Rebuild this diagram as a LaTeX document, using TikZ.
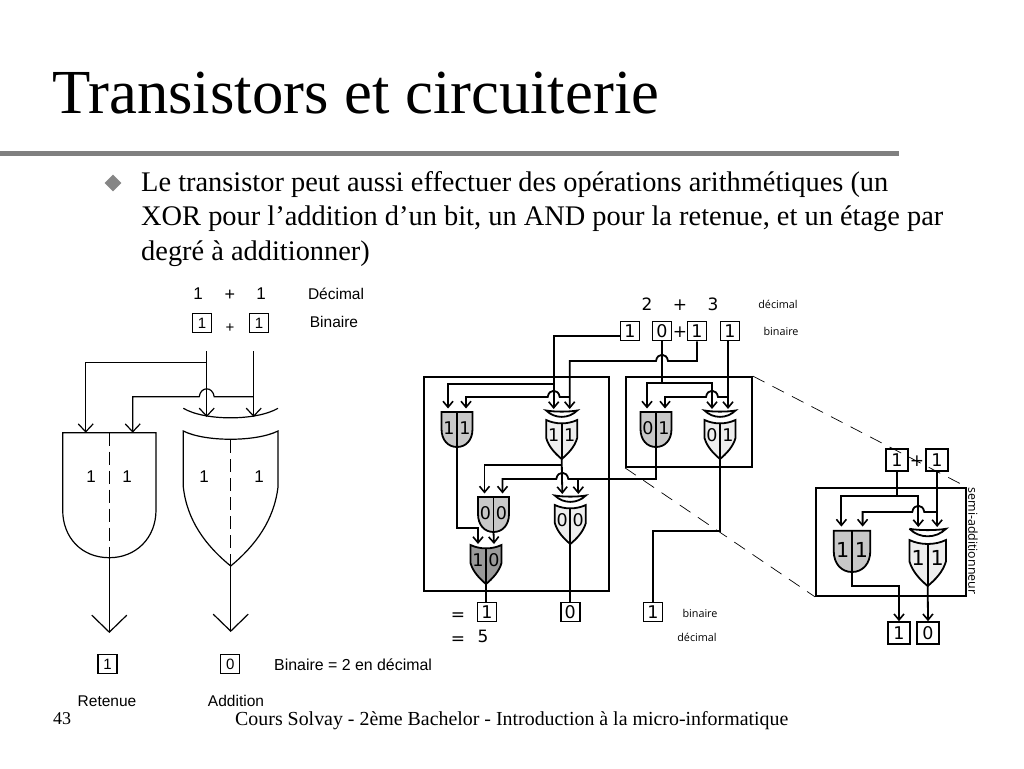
\documentclass[tikz,border=0pt]{standalone}
\usepackage{fontspec}
\setmainfont{Liberation Serif}
\setsansfont{Liberation Sans}
\newfontfamily\digitfont{DejaVu Sans}
\newfontfamily\wordfont{Open Sans}
\usetikzlibrary{arrows.meta,calc,shapes.geometric}
\definecolor{rulegray}{HTML}{808080}
\definecolor{andgray}{HTML}{C8C8C8}
\definecolor{xorgray}{HTML}{EEEEEE}
\definecolor{orgray}{HTML}{9A9A9A}
\tikzset{
	wire/.style={line width=1.8pt},
	thinwire/.style={line width=1.2pt},
	tip/.tip={Straight Barb[length=6pt,width=10pt,line width=1.6pt]},
	bigtip/.tip={Straight Barb[length=8pt,width=15pt,line width=1.2pt]},
	hugetip/.tip={Straight Barb[length=17pt,width=35pt,line width=1.2pt]},
	bitbox/.style={draw,line width=1.6pt,minimum size=19pt,inner sep=0pt,font=\digitfont\fontsize{17.5}{17.5}\selectfont},
	smallbox/.style={draw,line width=1.1pt,minimum size=19pt,inner sep=0pt,font=\sffamily\fontsize{15}{15}\selectfont},
	frame/.style={draw,line width=1.8pt,inner sep=0pt},
	gatebit/.style={transform shape,inner sep=0pt,font=\digitfont\fontsize{17.5}{17.5}\selectfont},
	label/.style={inner sep=0pt,font=\wordfont\fontsize{10.8}{10.8}\selectfont},
	sumtext/.style={inner sep=0pt,font=\digitfont\fontsize{17}{17}\selectfont},
	helvtext/.style={inner sep=0pt,font=\sffamily\fontsize{15.5}{15.5}\selectfont},
	bignum/.style={inner sep=0pt,font=\sffamily\fontsize{17}{17}\selectfont},
	cutline/.style={line width=0.7pt,dash pattern=on 13pt off 9pt},
	midline/.style={thinwire,dash pattern=on 13pt off 6pt},
}
% hump of a horizontal wire going left over the vertical wire at #1
\newcommand{\hop}[3]{-- ($(#1 |- 0,#2)+(#3,0)$) .. controls +({-#3/5},{-#3*1.4}) and +({#3/5},{-#3*1.4}) .. +({-2*#3},0)}
% name, x, top y, left, right, fill
\newcommand{\andgate}[7][1]{
	\begin{scope}[shift={(#3,#4)},scale=#1]
		\draw[wire,fill=#7] (-15.5,0) -- (15.5,0) -- (15.5,17) .. controls (15.5,28) and (9,35) .. (0,35)
			.. controls (-9,35) and (-15.5,28) .. (-15.5,17) -- cycle;
		\draw[wire] (0,0) -- (0,35);
		\node[gatebit] at (-8,16) {#5};
		\node[gatebit] at (8,16) {#6};
		\coordinate (#2-l) at (-9,-3.5);
		\coordinate (#2-r) at (9,-3.5);
		\coordinate (#2-o) at (0,35);
	\end{scope}
}
\newcommand{\xorgate}[7][1]{
	\begin{scope}[shift={(#3,#4)},scale=#1]
		\draw[wire] (-15.5,-9.5) .. controls (-7,-8) and (7,-8) .. (15.5,-9.5)
			.. controls (7,-1) and (-7,-1) .. cycle;
		\draw[wire,fill=#7] (-15.5,0) .. controls (-6,4.5) and (6,4.5) .. (15.5,0) -- (15.5,18)
			.. controls (13,27) and (6,34) .. (0,39) .. controls (-6,34) and (-13,27) .. (-15.5,18) -- cycle;
		\draw[wire] (0,3.5) -- (0,39);
		\node[gatebit] at (-8,15.5) {#5};
		\node[gatebit] at (8,15.5) {#6};
		\coordinate (#2-l) at (-8,-11);
		\coordinate (#2-r) at (8,-11);
		\coordinate (#2-o) at (0,39);
	\end{scope}
}
\newcommand{\orgate}[6]{
	\begin{scope}[shift={(#2,#3)}]
		\draw[wire,fill=#6] (-15.5,0) .. controls (-6,4.5) and (6,4.5) .. (15.5,0) -- (15.5,18)
			.. controls (13,27) and (6,34) .. (0,39) .. controls (-6,34) and (-13,27) .. (-15.5,18) -- cycle;
		\draw[wire] (0,3.5) -- (0,39);
		\node[gatebit] at (-8,15.5) {#4};
		\node[gatebit] at (8,15.5) {#5};
		\coordinate (#1-l) at (-8,-1);
		\coordinate (#1-r) at (8,-1);
		\coordinate (#1-o) at (0,39);
	\end{scope}
}
\begin{document}
\begin{tikzpicture}[x=1pt,y=-1pt]
	\useasboundingbox[fill=white] (0,0) rectangle (1024,768);
	% heading and text
	\node[anchor=west,inner sep=0pt,font=\fontsize{62.7}{62.7}\selectfont] (title) at (52,93) {Transistors et circuiterie};
	\coordinate (ruleL) at (0,153);
	\coordinate (ruleR) at (899,153);
	\draw[line width=5pt,rulegray] (ruleL) -- (ruleR);
	\node[diamond,fill=rulegray!95!white,inner sep=0pt,minimum size=17pt] (bullet) at (113,183) {};
	\node[anchor=north west,inner sep=0pt,align=left,font=\fontsize{28.4}{34.5}\selectfont] (para) at (141,171)
		{Le transistor peut aussi effectuer des opérations arithmétiques (un\\
		XOR pour l’addition d’un bit, un AND pour la retenue, et un étage par\\
		degré à additionner)};
	\node[anchor=west,inner sep=0pt,font=\fontsize{18}{18}\selectfont] (page) at (53,719) {43};
	\node[anchor=west,inner sep=0pt,font=\fontsize{19.9}{20}\selectfont] (foot) at (235,721) {Cours Solvay - 2ème Bachelor - Introduction à la micro-informatique};
	% left circuit
	\node[bignum] (d1) at (198,294) {1};
	\node[bignum,font=\sffamily\fontsize{18}{18}\selectfont] (dplus) at (230,295) {+};
	\node[bignum] (d2) at (261,294) {1};
	\node[helvtext] (ldec) at (336,294) {Décimal};
	\node[smallbox] (l1) at (202,323) {1};
	\node[bignum,font=\sffamily\fontsize{15}{15}\selectfont] (lplus) at (230,328) {+};
	\node[smallbox] (l2) at (259,323) {1};
	\node[helvtext] (lbin) at (334,322) {Binaire};
	\coordinate (w1) at (206.7,351);
	\coordinate (w2) at (253.7,351);
	% big and
	\draw[thinwire] (62.7,432.7) -- (156,432.7) -- (156,510) .. controls (156,538) and (136,557.7) .. (109.3,557.7)
		.. controls (82,557.7) and (62.7,538) .. (62.7,510) -- cycle;
	\draw[midline] (109.3,432.7) -- (109.3,557.7);
	\coordinate (bigA-l) at (85.7,432.7);
	\coordinate (bigA-r) at (132.7,432.7);
	\coordinate (bigA-o) at (109.3,557.7);
	\node[bignum] (ba1) at (91,477) {1};
	\node[bignum] (ba2) at (127,477) {1};
	% big xor
	\draw[thinwire] (183.3,408.3) .. controls (205,421) and (256,421) .. (278,408.3);
	\draw[thinwire] (183.3,431) .. controls (205,442) and (256,442) .. (278,431) -- (278,487)
		.. controls (274,520) and (256,545) .. (230.7,566) .. controls (205,545) and (187,520) .. (183.3,487) -- cycle;
	\draw[midline] (230.7,440) -- (230.7,566);
	\coordinate (bigX-l) at (206.7,417);
	\coordinate (bigX-r) at (253.7,417);
	\coordinate (bigX-o) at (230.7,566);
	\node[bignum] (bx1) at (204,477) {1};
	\node[bignum] (bx2) at (259,477) {1};
	\draw[thinwire,-bigtip] (w1) -- (bigX-l);
	\draw[thinwire,-bigtip] (w2) -- (bigX-r);
	\draw[thinwire,-bigtip] (w1 |- 0,362.7) -| (bigA-l);
	\draw[thinwire,-bigtip] (w2 |- 0,396.7) \hop{w1}{396.7}{7.5} -- (bigA-r |- 0,396.7) -- (bigA-r);
	\coordinate (endA) at (109.3,633);
	\coordinate (endX) at (230.7,632);
	\draw[thinwire,-hugetip] (bigA-o) -- (endA);
	\draw[thinwire,-hugetip] (bigX-o) -- (endX);
	\node[smallbox] (retbit) at (107.5,664) {1};
	\node[smallbox] (addbit) at (230.3,664) {0};
	\node[helvtext,anchor=west,font=\sffamily\fontsize{15.9}{16}\selectfont] (lres) at (274,665) {Binaire = 2 en décimal};
	\node[helvtext] (ret) at (107,701) {Retenue};
	\node[helvtext] (add) at (236,701) {Addition};
	% right circuit, frames and zoom lines
	\node[frame,minimum width=185pt,minimum height=214pt] (boxA) at (516.5,484) {};
	\node[frame,minimum width=126pt,minimum height=90pt] (boxB) at (689,422) {};
	\node[frame,minimum width=150pt,minimum height=108pt] (boxS) at (891,542) {};
	\draw[cutline] (boxB.north east) -- (boxS.north east);
	\draw[cutline] (boxB.south west) -- (boxS.south west);
	\node[sumtext] (n2) at (647,304) {2};
	\node[sumtext] (nplus) at (680,305) {+};
	\node[sumtext] (n3) at (713,304) {3};
	\node[label] (rdec) at (778,304) {décimal};
	\node[label] (rbin) at (781,331) {binaire};
	\node[bitbox] (a1) at (630,331) {1};
	\node[bitbox] (a0) at (662,331) {0};
	\node[sumtext] (aplus) at (680,332) {+};
	\node[bitbox] (b1) at (697,331) {1};
	\node[bitbox] (b0) at (730,331) {1};
	% gates
	\andgate{gAa}{457}{412}{1}{1}{andgray}
	\xorgate{gXa}{561.7}{420}{1}{1}{xorgray}
	\andgate{gAb}{656}{412}{0}{1}{andgray}
	\xorgate{gXb}{720}{420}{0}{1}{xorgray}
	\andgate{gAc}{493.5}{497}{0}{0}{andgray}
	\xorgate{gXc}{570.3}{505}{0}{0}{xorgray}
	\orgate{gO}{486}{545}{1}{0}{orgray}
	% wires from the inputs
	\draw[wire,-tip] ([yshift=-5pt]a1.west) -| (gXa-l);
	\draw[wire,-tip] (gXa-l |- 0,384) -| (gAa-l);
	\draw[wire,-tip] (b1.south) -- (b1 |- 0,361) \hop{a0}{361}{6} -- (gXa-r |- 0,361) -- (gXa-r);
	\draw[wire,-tip] (gXa-r |- 0,397) \hop{gXa-l}{397}{6} -- (gAa-r |- 0,397) -- (gAa-r);
	\draw[wire] (a0.south) -- (a0 |- 0,383);
	\draw[wire,-tip] (a0 |- 0,383) -| (gAb-l);
	\draw[wire,-tip] (a0 |- 0,383) -| (gXb-l);
	\draw[wire,-tip] (gXb-r |- b0.south) -- (gXb-r);
	\draw[wire,-tip] (gXb-r |- 0,397) \hop{gXb-l}{397}{6} -- (gAb-r |- 0,397) -- (gAb-r);
	% carries and sums
	\draw[wire,-tip] (gAa-o) |- (gO-l |- 0,528) -- (gO-l);
	\draw[wire,-tip] (gXa-o) -- (gXc-l);
	\draw[wire,-tip] (gXa-o |- 0,465) -| (gAc-l);
	\draw[wire] (gAb-o) |- (gXc-r |- 0,479);
	\draw[wire,-tip] (gXc-r |- 0,479) -- (gXc-r);
	\draw[wire,-tip] (gXc-r |- 0,479) \hop{gXc-l}{479}{6} -- (gAc-r |- 0,479) -- (gAc-r);
	\draw[wire,-tip] (gAc-o) -- (gO-r);
	\node[bitbox] (r1) at (487,612) {1};
	\node[bitbox] (r0) at (570.3,612) {0};
	\node[bitbox] (r2) at (653,612) {1};
	\draw[wire] (gO-o) -- (r1.north -| gO-o);
	\draw[wire] (gXc-o) -- (r0.north);
	\draw[wire] (gXb-o) |- (r2 |- 0,531) -- (r2.north);
	\node[sumtext] (eq1) at (458,617) {=};
	\node[sumtext] (eq2) at (458,641) {=};
	\node[sumtext] (five) at (483,636) {5};
	\node[label] (rbin2) at (700,613) {binaire};
	\node[label] (rdec2) at (697,637) {décimal};
	% half adder
	\node[bitbox,minimum size=22pt] (s1) at (897,460) {1};
	\node[sumtext] (splus) at (917,461) {+};
	\node[bitbox,minimum size=22pt] (s2) at (937,460) {1};
	\andgate[1.18]{gAs}{852}{530.7}{1}{1}{andgray}
	\xorgate[1.18]{gXs}{927.7}{540}{1}{1}{xorgray}
	\draw[wire] (s1.south) -- (s1 |- 0,496);
	\draw[wire,-tip] (s1 |- 0,496) -| (gAs-l);
	\draw[wire,-tip] (s1 |- 0,496) -| (gXs-l);
	\draw[wire,-tip] (gXs-r |- s2.south) -- (gXs-r);
	\draw[wire,-tip] (gXs-r |- 0,512) \hop{gXs-l}{512}{6} -- (gAs-r |- 0,512) -- (gAs-r);
	\node[bitbox,minimum size=22pt] (t1) at (899,633) {1};
	\node[bitbox,minimum size=22pt] (t0) at (928,633) {0};
	\draw[wire,-tip] (gAs-o) |- (t1 |- 0,586) -- (t1.north);
	\draw[wire,-tip] (gXs-o) -- (t0.north);
	\node[label,rotate=-90,font=\wordfont\fontsize{12.4}{12.4}\selectfont] (semi) at (973,541) {semi-additionneur};
\end{tikzpicture}
\end{document}
